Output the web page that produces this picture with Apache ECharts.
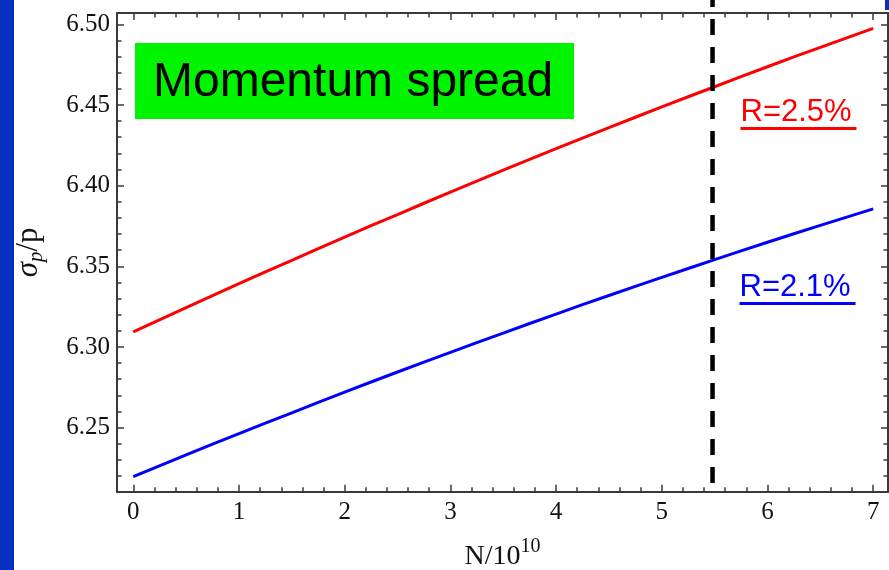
<!DOCTYPE html>
<html>
<head>
<meta charset="utf-8">
<script src="https://cdn.jsdelivr.net/npm/echarts@6/dist/echarts.min.js"></script>
<style>
html,body{margin:0;padding:0;background:#fff;}
#chart{width:889px;height:570px;}
</style>
</head>
<body>
<div id="chart"></div>
<script>
// ---- data ----
const nValues = [0, 0.5, 1, 1.5, 2, 2.5, 3, 3.5, 4, 4.5, 5, 5.5, 6, 6.5, 7];
const redValues = [6.3093, 6.3244, 6.3392, 6.3537, 6.3681, 6.3821, 6.3960, 6.4096, 6.4229, 6.4359, 6.4488, 6.4613, 6.4737, 6.4857, 6.4975];
const blueValues = [6.2196, 6.2331, 6.2463, 6.2592, 6.2720, 6.2845, 6.2967, 6.3086, 6.3204, 6.3319, 6.3431, 6.3541, 6.3649, 6.3754, 6.3856];
const markerN = [5.48, 5.48];
const markerY = [6.2157, 6.518];
const xMajorTicks = [0, 1, 2, 3, 4, 5, 6, 7];
const xMinorTicks = [0.2, 0.4, 0.6, 0.8, 1.2, 1.4, 1.6, 1.8, 2.2, 2.4, 2.6, 2.8, 3.2, 3.4, 3.6, 3.8, 4.2, 4.4, 4.6, 4.8, 5.2, 5.4, 5.6, 5.8, 6.2, 6.4, 6.6, 6.8];
const yMajorTicks = [6.25, 6.30, 6.35, 6.40, 6.45, 6.50];
const yMinorTicks = [6.22, 6.23, 6.24, 6.26, 6.27, 6.28, 6.29, 6.31, 6.32, 6.33, 6.34, 6.36, 6.37, 6.38, 6.39, 6.41, 6.42, 6.43, 6.44, 6.46, 6.47, 6.48, 6.49];
const seriesNames = ['R=2.5%', 'R=2.1%'];
const titleText = 'Momentum spread';

// ---- layout / style ----
const X_MIN = -0.154, X_MAX = 7.14, Y_MIN = 6.2103, Y_MAX = 6.507;
const AX = '#3a3a3a';
const SERIF = "'Liberation Serif','Times New Roman',serif";
const SANS = "'Liberation Sans',Arial,sans-serif";

function zip(a, b) { return a.map((v, i) => [v, b[i]]); }

function xAxisDef(pos, ticks, len, showLine, showLabel, extra) {
  return Object.assign({
    type: 'value', gridIndex: 0, position: pos, min: X_MIN, max: X_MAX,
    axisLine: { show: showLine, onZero: false, lineStyle: { color: AX, width: 2 } },
    axisTick: { show: true, inside: true, length: len, customValues: ticks, lineStyle: { color: AX, width: 1.5 } },
    axisLabel: showLabel ? { show: true, customValues: ticks, margin: 8, fontFamily: SERIF, fontSize: 25, color: '#111' } : { show: false },
    splitLine: { show: false }
  }, extra || {});
}
function yAxisDef(pos, ticks, len, showLine, showLabel, extra) {
  return Object.assign({
    type: 'value', gridIndex: 0, position: pos, min: Y_MIN, max: Y_MAX,
    axisLine: { show: showLine, onZero: false, lineStyle: { color: AX, width: 2 } },
    axisTick: { show: true, inside: true, length: len, customValues: ticks, lineStyle: { color: AX, width: 1.5 } },
    axisLabel: showLabel ? { show: true, customValues: ticks, margin: 7, fontFamily: SERIF, fontSize: 25, color: '#111',
      formatter: v => Number(v).toFixed(2) } : { show: false },
    splitLine: { show: false }
  }, extra || {});
}

const chart = echarts.init(document.getElementById('chart'), null, { renderer: 'canvas' });
chart.setOption({
  backgroundColor: '#ffffff',
  animation: false,
  grid: { left: 117, top: 13, width: 771, height: 478.7, containLabel: false, outerBoundsMode: 'none' },
  xAxis: [
    xAxisDef('bottom', xMajorTicks, 7, true, true, {
      name: '{n|N/10}{sup|10}', nameLocation: 'middle', nameGap: 45,
      nameTextStyle: { fontFamily: SERIF, color: '#111',
        rich: {
          n: { fontFamily: SERIF, fontSize: 28, lineHeight: 34, color: '#111', verticalAlign: 'bottom' },
          sup: { fontFamily: SERIF, fontSize: 20, lineHeight: 20, color: '#111', verticalAlign: 'top' }
        } }
    }),
    xAxisDef('bottom', xMinorTicks, 4.5, false, false),
    xAxisDef('top', xMajorTicks, 7, true, false),
    xAxisDef('top', xMinorTicks, 4.5, false, false)
  ],
  yAxis: [
    yAxisDef('left', yMajorTicks, 7, true, true, {
      name: '{s|σ}{sub|p}{n|/p}', nameLocation: 'middle', nameGap: 70,
      nameTextStyle: { fontFamily: SERIF, color: '#111',
        rich: {
          s: { fontFamily: SERIF, fontSize: 31, fontStyle: 'italic', lineHeight: 36, color: '#111', verticalAlign: 'middle' },
          sub: { fontFamily: SERIF, fontSize: 21, fontStyle: 'italic', lineHeight: 21, color: '#111', verticalAlign: 'bottom' },
          n: { fontFamily: SERIF, fontSize: 31, lineHeight: 36, color: '#111', verticalAlign: 'middle' }
        } }
    }),
    yAxisDef('left', yMinorTicks, 4.5, false, false),
    yAxisDef('right', yMajorTicks, 7, true, false),
    yAxisDef('right', yMinorTicks, 4.5, false, false)
  ],
  series: [
    { name: seriesNames[0], type: 'line', xAxisIndex: 0, yAxisIndex: 0, data: zip(nValues, redValues),
      showSymbol: false, symbol: 'none', smooth: true, lineStyle: { color: '#ff0000', width: 3 }, z: 3 },
    { name: seriesNames[1], type: 'line', xAxisIndex: 0, yAxisIndex: 0, data: zip(nValues, blueValues),
      showSymbol: false, symbol: 'none', smooth: true, lineStyle: { color: '#0000ff', width: 3 }, z: 3 },
    { name: 'N marker', type: 'line', xAxisIndex: 0, yAxisIndex: 0, data: zip(markerN, markerY), clip: false,
      showSymbol: false, symbol: 'none', lineStyle: { color: '#000', width: 4.5, type: [16, 12], cap: 'butt' }, z: 4 }
  ],
  graphic: [
    { type: 'rect', left: 0, top: 0, shape: { width: 14, height: 570 }, style: { fill: '#0630c2' }, z: 10 },
    { type: 'rect', left: 885, top: 0, shape: { width: 4, height: 10 }, style: { fill: '#0630c2' }, z: 10 },
    { type: 'text', x: 447, y: -21, style: { text: 'N/10', fontFamily: SERIF, fontSize: 27, fill: '#444', verticalAlign: 'top' }, z: 10 },
    { type: 'rect', x: 135, y: 43, shape: { width: 439, height: 76 }, style: { fill: '#00f400' }, z: 10 },
    { type: 'text', x: 153, y: 58.5, style: { text: titleText, fontFamily: SANS, fontSize: 48, fill: '#000', verticalAlign: 'top' }, z: 11 },
    { type: 'text', x: 740.5, y: 96.5, style: { text: seriesNames[0], fontFamily: SANS, fontSize: 31, fill: '#ff0000', verticalAlign: 'top' }, z: 11 },
    { type: 'rect', x: 740.5, y: 127, shape: { width: 116, height: 3 }, style: { fill: '#ff0000' }, z: 11 },
    { type: 'text', x: 739.5, y: 271.5, style: { text: seriesNames[1], fontFamily: SANS, fontSize: 31, fill: '#0000ff', verticalAlign: 'top' }, z: 11 },
    { type: 'rect', x: 739.5, y: 302, shape: { width: 116, height: 3 }, style: { fill: '#0000ff' }, z: 11 }
  ]
});
</script>
</body>
</html>
